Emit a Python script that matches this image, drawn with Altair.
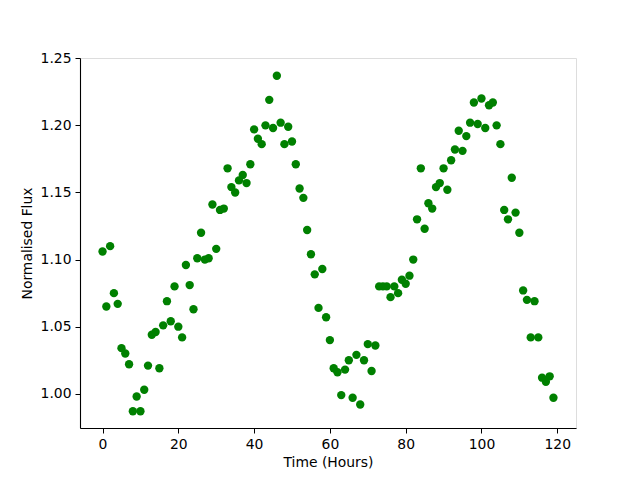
import altair as alt
import pandas as pd

time_hours = list(range(120))
flux = [
    1.106, 1.065, 1.110, 1.075, 1.067, 1.034, 1.030, 1.022, 0.987, 0.998,
    0.987, 1.003, 1.021, 1.044, 1.046, 1.019, 1.051, 1.069, 1.054, 1.080,
    1.050, 1.042, 1.096, 1.081, 1.063, 1.101, 1.120, 1.100, 1.101, 1.141,
    1.108, 1.137, 1.138, 1.168, 1.154, 1.150, 1.159, 1.163, 1.157, 1.171,
    1.197, 1.190, 1.186, 1.200, 1.219, 1.198, 1.237, 1.202, 1.186, 1.199,
    1.188, 1.171, 1.153, 1.146, 1.122, 1.104, 1.089, 1.064, 1.093, 1.057,
    1.040, 1.019, 1.016, 0.999, 1.018, 1.025, 0.997, 1.029, 0.992, 1.025,
    1.037, 1.017, 1.036, 1.080, 1.080, 1.080, 1.072, 1.080, 1.075, 1.085,
    1.082, 1.088, 1.100, 1.130, 1.168, 1.123, 1.142, 1.138, 1.154, 1.157,
    1.168, 1.152, 1.174, 1.182, 1.196, 1.181, 1.192, 1.202, 1.217, 1.201,
    1.220, 1.198, 1.215, 1.217, 1.200, 1.186, 1.137, 1.130, 1.161, 1.135,
    1.120, 1.077, 1.070, 1.042, 1.069, 1.042, 1.012, 1.009, 1.013, 0.997,
]
x_ticks = [0, 20, 40, 60, 80, 100, 120]
y_ticks = [1.00, 1.05, 1.10, 1.15, 1.20, 1.25]

df = pd.DataFrame({"t": time_hours, "flux": flux})

axis_common = dict(
    grid=False,
    domainColor="black",
    domainWidth=1.1,
    tickColor="black",
    tickSize=5,
    tickWidth=1,
    labelPadding=4,
    labelFont="DejaVu Sans",
    labelFontSize=13.9,
    labelColor="black",
    titleFont="DejaVu Sans",
    titleFontSize=13.9,
    titleFontWeight="normal",
    titleColor="black",
)

chart = (
    alt.Chart(df)
    .mark_circle(size=70, color="#008000", opacity=1)
    .encode(
        x=alt.X(
            "t:Q",
            title="Time (Hours)",
            scale=alt.Scale(domain=[-5.95, 124.95], nice=False, zero=False),
            axis=alt.Axis(values=x_ticks, format="d", titlePadding=5, **axis_common),
        ),
        y=alt.Y(
            "flux:Q",
            title="Normalised Flux",
            scale=alt.Scale(domain=[0.9745, 1.2502], nice=False, zero=False),
            axis=alt.Axis(values=y_ticks, format=".2f", titlePadding=6, **axis_common),
        ),
    )
    .properties(
        width=496,
        height=370,
        autosize=alt.AutoSizeParams(type="none"),
        padding={"left": 72, "top": 50, "right": 48, "bottom": 52},
    )
    .configure_view(stroke="black", strokeWidth=1.1, strokeOpacity=1)
    .configure(background="white")
)

chart.save("out.html", embed_options={"renderer": "svg", "actions": False})
